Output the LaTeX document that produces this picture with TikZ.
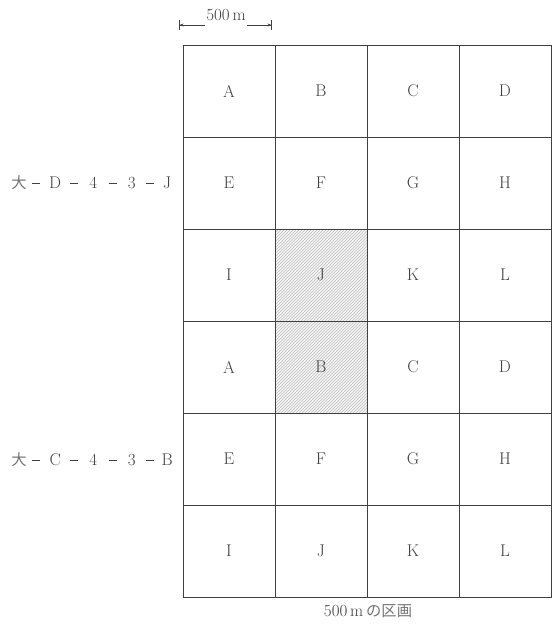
\documentclass[tikz,border=0pt]{standalone}
\usepackage{fontspec}
\newfontfamily\jp{Noto Sans CJK JP}[Scale=0.9]
\usetikzlibrary{patterns,arrows.meta}
\newcommand{\dsh}{\rule[5.5pt]{8pt}{0.7pt}}
\newcommand{\pc}[2]{\makebox[#1pt][c]{#2}}
\newcommand{\jpl}[1]{{\jp\color{black!55}#1}}
\begin{document}
\begin{tikzpicture}[x=1pt,y=-1pt,
  gridline/.style={draw=black!75, line width=0.8pt},
  lbl/.style={font=\fontsize{17}{20}\selectfont, text=black!75, inner sep=1pt},
  dim/.style={draw=black!75, line width=0.6pt}]
\useasboundingbox (0,0) rectangle (559,625);
% hatched cells
\fill[gray!8] (275,229) rectangle (367,413);
\fill[pattern=north east lines, pattern color=gray!50] (275,229) rectangle (367,413);
% grid
\foreach \x in {275,367,459} \draw[gridline] (\x,45) -- (\x,597);
\foreach \y in {137,229,321,413,505} \draw[gridline] (183,\y) -- (551,\y);
\draw[gridline, line width=1pt] (183,45) rectangle (551,597);
% cell letters
\foreach \r/\row in {1/{A,B,C,D},2/{E,F,G,H},3/{I,J,K,L},4/{A,B,C,D},5/{E,F,G,H},6/{I,J,K,L}} {
  \foreach \L [count=\c] in \row {
    \node[lbl] (cell-\r-\c) at ({183+92*(\c-0.5)},{45+92*(\r-0.5)}) {\L};
  }
}
% dimension
\node[lbl] (dimtxt) at (226,15) {500\,m};
\coordinate (dl) at (179,25);
\coordinate (dr) at (272,25);
\draw[dim, {Bar[width=10pt]Stealth[length=4pt,width=3pt]}-] (dl) -- (dimtxt.west |- dl);
\draw[dim, -{Stealth[length=4pt,width=3pt]Bar[width=10pt]}] (dimtxt.east |- dr) -- (dr);
% side labels
\node[lbl, anchor=west, inner sep=0pt] (labD) at (11,183) {\pc{15.5}{\jpl{大}}\pc{19}{\dsh}\pc{19}{D}\pc{18.5}{\dsh}\pc{20}{4}\pc{19}{\dsh}\pc{19}{3}\pc{17.5}{\dsh}\pc{17}{J}};
\node[lbl, anchor=west, inner sep=0pt] (labC) at (11,460) {\pc{15.5}{\jpl{大}}\pc{19}{\dsh}\pc{19}{C}\pc{18.5}{\dsh}\pc{20}{4}\pc{19}{\dsh}\pc{19}{3}\pc{17.5}{\dsh}\pc{17}{B}};
% bottom caption
\node[lbl] (cap) at (368,611) {500\,m\,\jpl{の区画}};
\end{tikzpicture}
\end{document}
